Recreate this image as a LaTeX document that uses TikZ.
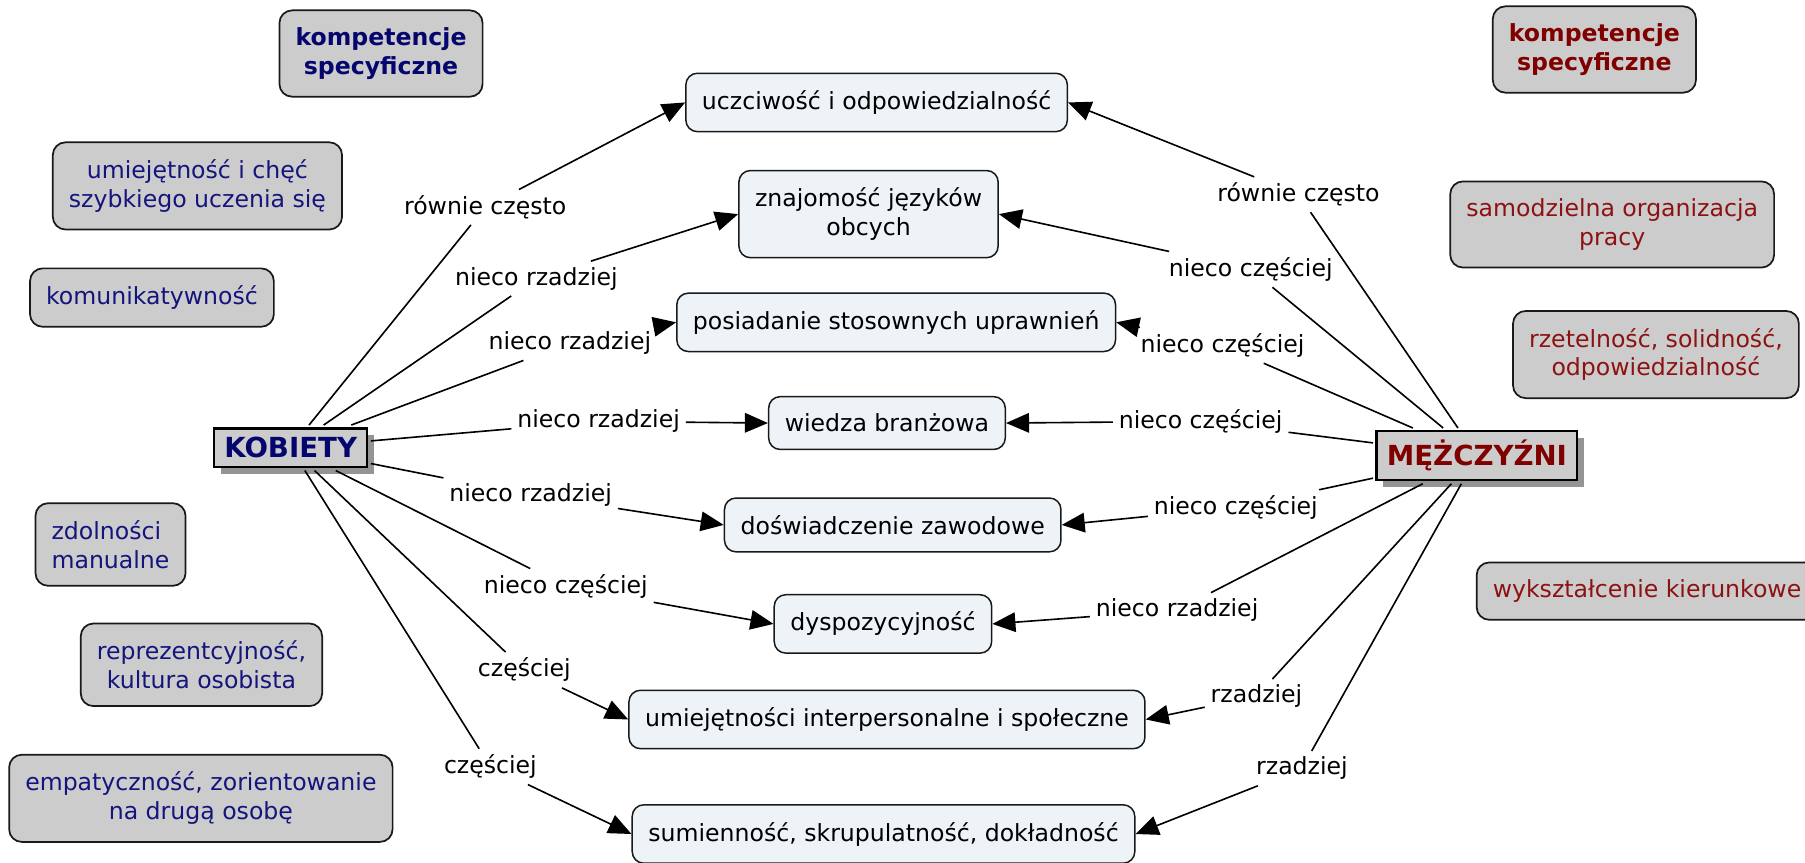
\documentclass[tikz,border=0pt]{standalone}
\usepackage{fontspec}
\setmainfont{DejaVu Sans}
\usetikzlibrary{arrows.meta,shadows}
\definecolor{navyT}{RGB}{20,20,125}
\definecolor{navyB}{RGB}{5,5,110}
\definecolor{redT}{RGB}{140,18,18}
\definecolor{redB}{RGB}{128,0,0}
\definecolor{greyfill}{RGB}{204,204,204}
\definecolor{centfill}{RGB}{237,243,246}
\definecolor{edge}{RGB}{25,25,25}
\tikzset{
  base/.style={font=\fontsize{20.5}{25}\selectfont, inner xsep=14pt, inner ysep=15pt, align=center},
  cbox/.style={base, draw=edge, line width=1.3pt, fill=centfill, rounded corners=10pt, text=black},
  gbox/.style={base, draw=edge, line width=1.5pt, fill=greyfill, rounded corners=11pt},
  wbox/.style={gbox, text=navyT},
  mbox/.style={gbox, text=redT},
  hub/.style={draw=black, line width=1.8pt, fill=greyfill, font=\fontsize{24}{28}\selectfont\bfseries,
    inner xsep=9pt, inner ysep=7.7pt, outer sep=3pt,
    drop shadow={shadow xshift=6pt, shadow yshift=-6pt, fill=black!42, opacity=1}},
  lab/.style={font=\fontsize{20.5}{25}\selectfont, inner sep=5pt},
  conn/.style={line width=1.4pt, draw=black},
  arr/.style={conn, -{Triangle[length=20pt,width=17pt]}}
}
\begin{document}
\begin{tikzpicture}[x=1pt,y=-1pt]
\useasboundingbox[fill=white] (0,0) rectangle (1568,749);

% left column
\node[wbox, text=navyB, font=\fontsize{20.5}{25}\selectfont\bfseries] (WK) at (331,46.5) {kompetencje\\specyficzne};
\node[wbox] (L1) at (171.5,161.5) {umiejętność i chęć\\szybkiego uczenia się};
\node[wbox] (L2) at (132,258.5) {komunikatywność};
\node[wbox, align=left] (L3) at (96,473) {zdolności\\manualne};
\node[wbox] (L4) at (175,577.5) {reprezentcyjność,\\kultura osobista};
\node[wbox] (L5) at (174.5,693.5) {empatyczność, zorientowanie\\na drugą osobę};
\node[hub, text=navyB] (KOB) at (252.5,389) {KOBIETY};

% right column
\node[mbox, text=redB, font=\fontsize{20.5}{25}\selectfont\bfseries] (MK) at (1385,43) {kompetencje\\specyficzne};
\node[mbox] (R1) at (1400.5,195) {samodzielna organizacja\\pracy};
\node[mbox] (R2) at (1438.5,308) {rzetelność, solidność,\\odpowiedzialność};
\node[mbox, anchor=west] (R3) at (1282,513.5) {wykształcenie kierunkowe};
\node[hub, text=redB] (MEZ) at (1283,396) {MĘŻCZYŹNI};

% central
\node[cbox] (U) at (761.5,89) {uczciwość i odpowiedzialność};
\node[cbox] (Z) at (754.5,186) {znajomość języków\\obcych};
\node[cbox] (P) at (778.5,280) {posiadanie stosownych uprawnień};
\node[cbox] (W) at (770.5,367.5) {wiedza branżowa};
\node[cbox] (D) at (775.5,456) {doświadczenie zawodowe};
\node[cbox] (Y) at (767,542) {dyspozycyjność};
\node[cbox] (I) at (770.5,625) {umiejętności interpersonalne i społeczne};
\node[cbox] (S) at (767.5,724.5) {sumienność, skrupulatność, dokładność};

% left labels
\node[lab] (la1) at (421.5,180) {równie często};
\node[lab] (la2) at (466,242) {nieco rzadziej};
\node[lab] (la3) at (495,298) {nieco rzadziej};
\node[lab] (la4) at (520,366) {nieco rzadziej};
\node[lab] (la5) at (461,430) {nieco rzadziej};
\node[lab] (la6) at (491.5,509.5) {nieco częściej};
\node[lab] (la7) at (455.5,582) {częściej};
\node[lab] (la8) at (426,666) {częściej};

% right labels
\node[lab] (ra1) at (1128,169) {równie często};
\node[lab] (ra2) at (1086.5,234) {nieco częściej};
\node[lab] (ra3) at (1062,300) {nieco częściej};
\node[lab] (ra4) at (1043,366) {nieco częściej};
\node[lab] (ra5) at (1073.5,441) {nieco częściej};
\node[lab] (ra6) at (1022.5,530) {nieco rzadziej};
\node[lab] (ra7) at (1091.5,605) {rzadziej};
\node[lab] (ra8) at (1131,667.5) {rzadziej};

% left connectors
\draw[conn] (KOB) -- (la1); \draw[arr] (la1) -- (U.west);
\draw[conn] (KOB) -- (la2); \draw[arr] (la2) -- (Z.west);
\draw[conn] (KOB) -- (la3); \draw[arr] (la3) -- (P.west);
\draw[conn] (KOB) -- (la4); \draw[arr] (la4) -- (W.west);
\draw[conn] (KOB) -- (la5); \draw[arr] (la5) -- (D.west);
\draw[conn] (KOB) -- (la6); \draw[arr] (la6) -- (Y.west);
\draw[conn] (KOB) -- (la7); \draw[arr] (la7) -- (I.west);
\draw[conn] (KOB) -- (la8); \draw[arr] (la8) -- (S.west);

% right connectors
\draw[conn] (MEZ) -- (ra1); \draw[arr] (ra1) -- (U.east);
\draw[conn] (MEZ) -- (ra2); \draw[arr] (ra2) -- (Z.east);
\draw[conn] (MEZ) -- (ra3); \draw[arr] (ra3) -- (P.east);
\draw[conn] (MEZ) -- (ra4); \draw[arr] (ra4) -- (W.east);
\draw[conn] (MEZ) -- (ra5); \draw[arr] (ra5) -- (D.east);
\draw[conn] (MEZ) -- (ra6); \draw[arr] (ra6) -- (Y.east);
\draw[conn] (MEZ) -- (ra7); \draw[arr] (ra7) -- (I.east);
\draw[conn] (MEZ) -- (ra8); \draw[arr] (ra8) -- (S.east);
\end{tikzpicture}
\end{document}
